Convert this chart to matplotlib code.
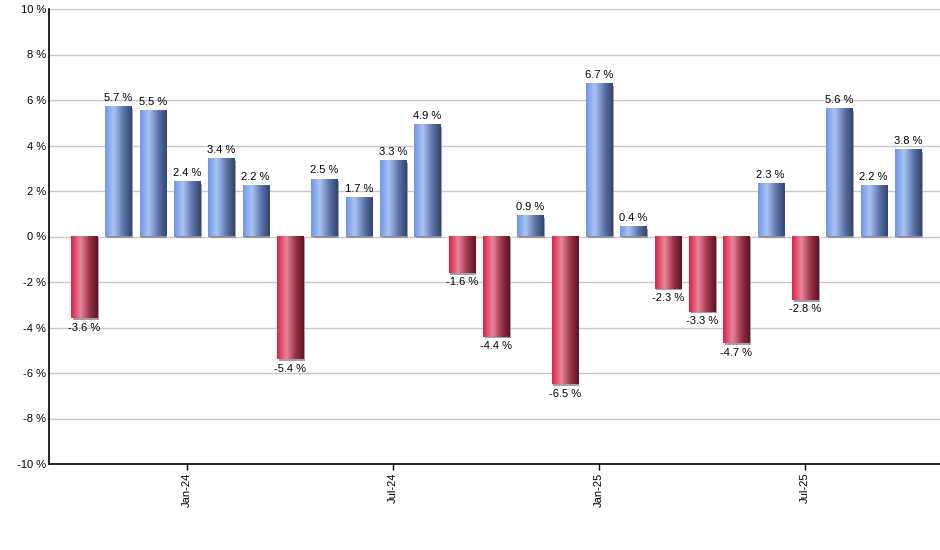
import numpy as np
import matplotlib
matplotlib.use("Agg")
from matplotlib import pyplot as plt
from matplotlib.colors import LinearSegmentedColormap
import matplotlib.patheffects as pe

# Monthly returns, Oct-23 .. Oct-25
months = ["Oct-23", "Nov-23", "Dec-23", "Jan-24", "Feb-24", "Mar-24", "Apr-24",
          "May-24", "Jun-24", "Jul-24", "Aug-24", "Sep-24", "Oct-24", "Nov-24",
          "Dec-24", "Jan-25", "Feb-25", "Mar-25", "Apr-25", "May-25", "Jun-25",
          "Jul-25", "Aug-25", "Sep-25", "Oct-25"]
returns = [-3.6, 5.7, 5.5, 2.4, 3.4, 2.2, -5.4, 2.5, 1.7, 3.3, 4.9, -1.6, -4.4,
           0.9, -6.5, 6.7, 0.4, -2.3, -3.3, -4.7, 2.3, -2.8, 5.6, 2.2, 3.8]
tickMonths = ["Jan-24", "Jul-24", "Jan-25", "Jul-25"]
yTicks = [-10, -8, -6, -4, -2, 0, 2, 4, 6, 8, 10]

plt.rcParams['font.family'] = ['Liberation Sans', 'DejaVu Sans']
fs = 8

# horizontal shading for the "cylinder" look
blueMap = LinearSegmentedColormap.from_list(
    "blue", [(0, "#6f97e8"), (0.32, "#a9c4f4"), (0.7, "#5b72a8"), (1, "#34456c")])
redMap = LinearSegmentedColormap.from_list(
    "red", [(0, "#dc2448"), (0.35, "#e8859a"), (0.7, "#9a3247"), (1, "#5e1424")])
grad = np.linspace(0, 1, 64).reshape(1, -1)

fig = plt.figure(figsize=(9.4, 5.5), dpi=100)
ax = fig.add_axes([49/940, 1 - 464/550, 1 - 49/940, (464 - 9)/550])

x = np.arange(len(months))
bars = ax.bar(x, returns, width=0.76, color="#909090", zorder=2,
              path_effects=[pe.SimplePatchShadow(offset=(1.2, -1.2), shadow_rgbFace="#8a8a8a", alpha=0.8),
                            pe.Normal()])

for patch, val in zip(bars.patches, returns):
    x0 = patch.get_x()
    x1 = x0 + patch.get_width()
    cmap = blueMap if val >= 0 else redMap
    ax.imshow(grad, cmap=cmap, extent=[x0, x1, 0, val], aspect='auto',
              interpolation='bicubic', zorder=3)
    cx = x0 + patch.get_width() / 2
    if val >= 0:
        ax.annotate(f"{val:.1f} %", (cx, val), xytext=(0, 3), textcoords='offset points',
                    ha='center', va='bottom', fontsize=fs, zorder=4)
    else:
        ax.annotate(f"{val:.1f} %", (cx, val), xytext=(0, -3), textcoords='offset points',
                    ha='center', va='top', fontsize=fs, zorder=4)

ax.set_xlim(-1.02, 24.93)
ax.set_ylim(-10, 10)
ax.set_yticks(yTicks)
ax.set_yticklabels([f"{t} %" for t in yTicks], fontsize=fs)
ax.set_xticks([months.index(m) for m in tickMonths])
ax.set_xticklabels(tickMonths, rotation=90, fontsize=fs)
ax.tick_params(axis='y', length=0, pad=2)
ax.tick_params(axis='x', length=4, width=1, pad=2)
ax.grid(axis='y', color="#c8c8c8", linewidth=1, zorder=0)
ax.set_axisbelow(True)
for side in ['top', 'right']:
    ax.spines[side].set_visible(False)
ax.spines['left'].set_linewidth(1.2)
ax.spines['bottom'].set_linewidth(1.2)

fig.savefig("out.png", dpi=100)
